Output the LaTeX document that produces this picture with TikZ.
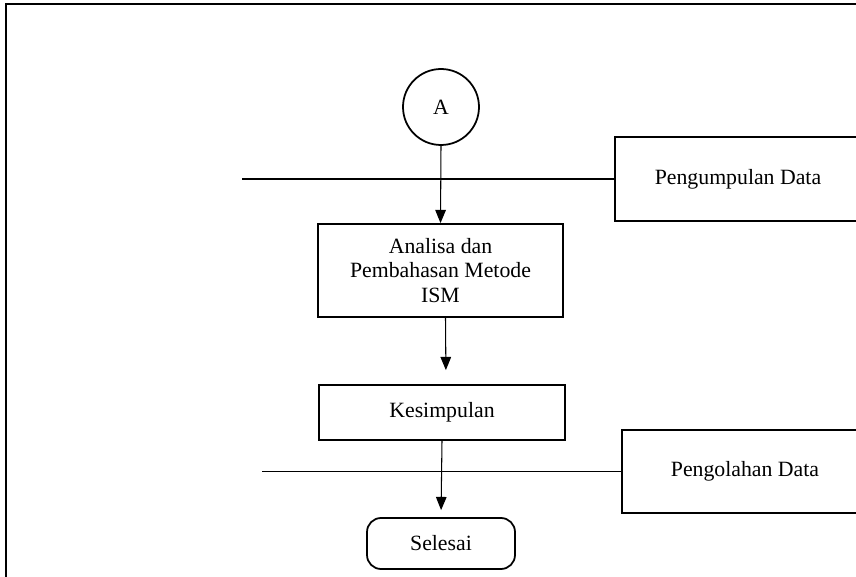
\documentclass[tikz,border=0pt]{standalone}
\usepackage{fontspec}
\setmainfont{Liberation Serif}
\usetikzlibrary{arrows.meta}
\begin{document}
\begin{tikzpicture}[x=0.02cm,y=-0.02cm,
	font=\fontsize{12.4}{14}\selectfont,
	kotak/.style={draw,line width=1pt,inner sep=0pt,align=center},
	panah/.style={line width=0.6pt,-{Triangle[length=7.5pt,width=6pt]}},
	garis/.style={line width=0.6pt}]
	% Page size and outer frame
	\useasboundingbox (0,0) rectangle (856,577);
	\clip (0,0) rectangle (856,577);
	\draw[line width=1pt] (6,600) -- (6,4) -- (900,4);
	
	% Flow of the steps
	\node[kotak,circle,minimum size=76*0.02cm] (a) at (441,107) {A};
	\node[kotak,minimum width=245*0.02cm,minimum height=93*0.02cm] (analisa) at (440.5,270.5) {Analisa dan\\Pembahasan Metode\\ISM};
	\node[kotak,minimum width=246*0.02cm,minimum height=55*0.02cm] (kesimpulan) at (442,412.5) {Kesimpulan};
	\node[kotak,rounded corners=8pt,minimum width=148*0.02cm,minimum height=51*0.02cm] (selesai) at (441,543.5) {Selesai};
	
	% Boxes on the right, cut by the page edge
	\node[kotak,minimum width=246*0.02cm,minimum height=84*0.02cm] (kumpul) at (738,179) {\raisebox{-2pt}{Pengumpulan Data}};
	\node[kotak,minimum width=246*0.02cm,minimum height=83*0.02cm] (olah) at (745,471.5) {\raisebox{-1pt}{Pengolahan Data}};
	\coordinate (ujung1) at (242,179);
	\coordinate (ujung2) at (262,471.5);
	
	% Connectors
	\draw[garis] (ujung1) -- (kumpul.west);
	\draw[garis] (ujung2) -- (olah.west);
	\draw[panah] (a.south) -- (analisa.north);
	\draw[panah,shorten >=14*0.02cm] ([xshift=5*0.02cm]analisa.south) -- ([xshift=4*0.02cm]kesimpulan.north);
	\draw[panah,shorten >=7*0.02cm] (kesimpulan.south) -- (selesai.north);
\end{tikzpicture}
\end{document}
